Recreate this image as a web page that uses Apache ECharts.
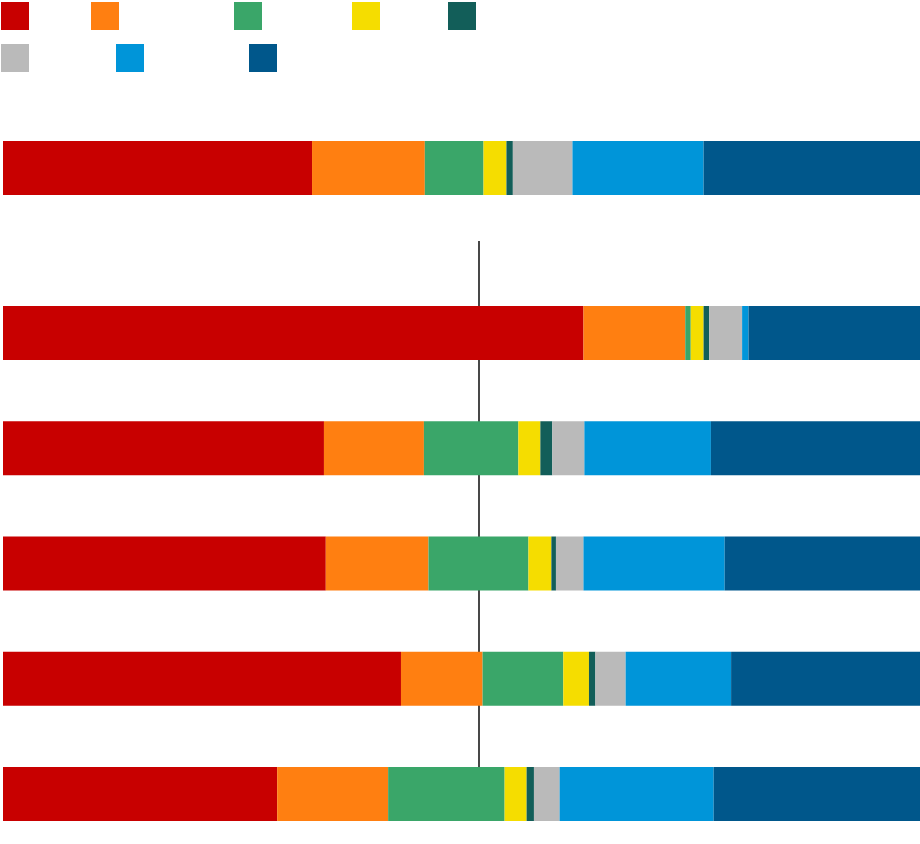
<!DOCTYPE html>
<html>
<head>
<meta charset="utf-8">
<script src="https://cdn.jsdelivr.net/npm/echarts@6/dist/echarts.min.js"></script>
<style>
  html, body { margin: 0; padding: 0; background: #fff; }
  #chart { width: 920px; height: 844px; }
</style>
</head>
<body>
<div id="chart"></div>
<script>
"use strict";

// parties (labels are not shown in the picture)
var partyNames = ['p1', 'p2', 'p3', 'p4', 'p5', 'p6', 'p7', 'p8'];
var partyColors = ['#c80000', '#ff7f11', '#3aa669', '#f5dd00', '#125e59', '#bababa', '#0095d9', '#00578b'];

// top bar (share, %)
var topShare = [33.7, 12.3, 6.4, 2.5, 0.7, 6.5, 14.3, 23.6];

// lower bars, one row per group, shares in party order (%)
var groupNames = ['g1', 'g2', 'g3', 'g4', 'g5'];
var groupShares = [
    [63.3, 11.1, 0.6, 1.4, 0.6, 3.6, 0.7, 18.7],
    [35.0, 10.9, 10.3, 2.4, 1.3, 3.5, 13.8, 22.8],
    [35.2, 11.2, 10.9, 2.5, 0.5, 3.0, 15.4, 21.3],
    [43.4, 8.9, 8.8, 2.8, 0.7, 3.3, 11.5, 20.6],
    [29.9, 12.1, 12.7, 2.4, 0.8, 2.8, 16.8, 22.5]
];

// reference line value (%)
var refValue = 51.9;

var myChart = echarts.init(document.getElementById('chart'));

// legend positions (two rows, no text)
var legendPos = [
    [1, 2], [91, 2], [234, 2], [352, 2], [448, 2],
    [1, 44], [116, 44], [249, 44]
];

var legends = [];
for (var i = 0; i < partyNames.length; i++) {
    legends.push({
        data: [partyNames[i]],
        left: legendPos[i][0],
        top: legendPos[i][1],
        icon: 'rect',
        itemWidth: 28,
        itemHeight: 28,
        padding: 0,
        selectedMode: false,
        formatter: function () { return ''; }
    });
}

var series = [];
for (var p = 0; p < partyNames.length; p++) {
    // top bar
    series.push({
        name: partyNames[p],
        type: 'bar',
        stack: 'top',
        xAxisIndex: 0,
        yAxisIndex: 0,
        barWidth: 54,
        z: 3,
        itemStyle: { color: partyColors[p] },
        data: [topShare[p]]
    });
    // groups
    var vals = [];
    for (var g = 0; g < groupShares.length; g++) {
        vals.push(groupShares[g][p]);
    }
    series.push({
        name: partyNames[p],
        type: 'bar',
        stack: 'groups',
        xAxisIndex: 1,
        yAxisIndex: 1,
        barWidth: 54,
        clip: false,
        z: 3,
        itemStyle: { color: partyColors[p] },
        data: vals
    });
}

// reference line, drawn behind the bars
series.push({
    type: 'line',
    xAxisIndex: 2,
    yAxisIndex: 2,
    data: [],
    z: 1,
    markLine: {
        silent: true,
        z: 1,
        symbol: 'none',
        label: { show: false },
        lineStyle: { color: '#1a1a1a', width: 1.6, type: 'solid' },
        data: [{ xAxis: refValue }]
    }
});

var hiddenX = function (idx) {
    return {
        type: 'value', gridIndex: idx, min: 0, max: 100,
        show: false, splitLine: { show: false }
    };
};

var option = {
    backgroundColor: '#ffffff',
    animation: false,
    legend: legends,
    grid: [
        { left: 3, right: 0, top: 141, height: 54 },
        { left: 3, right: 0, top: 333, height: 461 },
        { left: 3, right: 0, top: 241, height: 580 }
    ],
    xAxis: [hiddenX(0), hiddenX(1), hiddenX(2)],
    yAxis: [
        { type: 'category', gridIndex: 0, data: ['all'], show: false },
        { type: 'category', gridIndex: 1, data: groupNames, inverse: true, boundaryGap: false, show: false },
        { type: 'value', gridIndex: 2, min: 0, max: 1, show: false }
    ],
    series: series
};

myChart.setOption(option);
</script>
</body>
</html>
